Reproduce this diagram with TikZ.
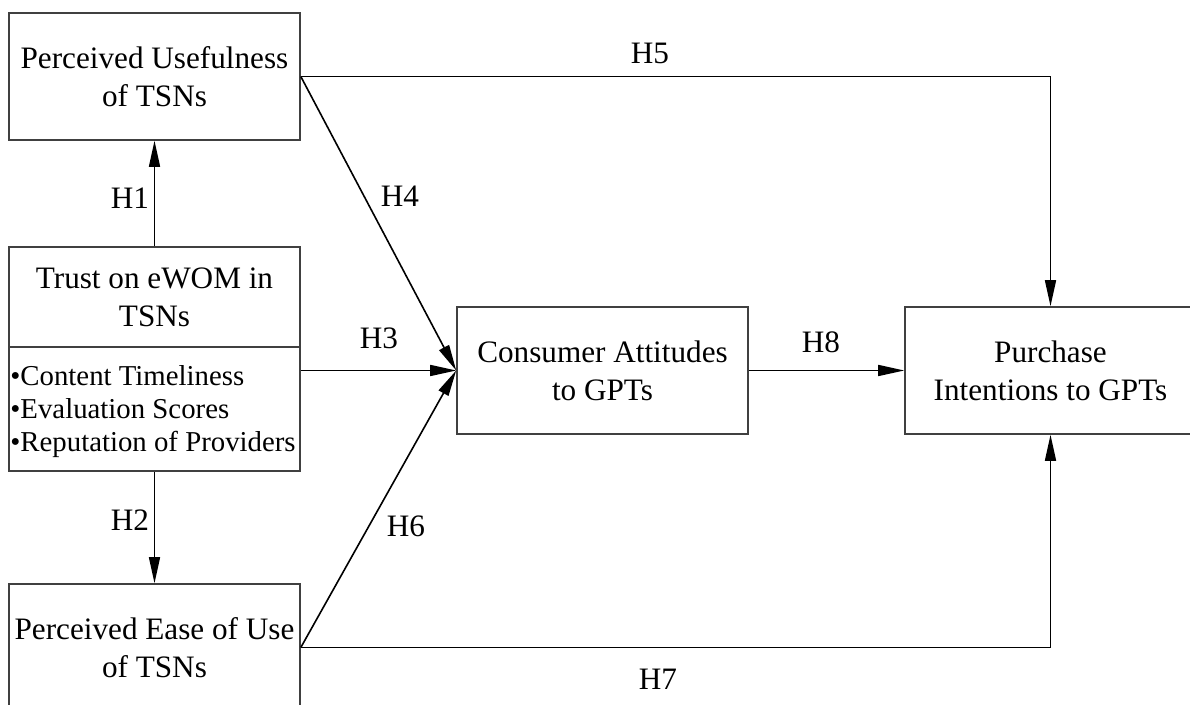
\documentclass[tikz,border=0pt]{standalone}
\usepackage{fontspec}
\setmainfont{Liberation Serif}
\usetikzlibrary{arrows.meta}

\begin{document}
\begin{tikzpicture}[x=0.5pt, y=-0.5pt,
    box/.style={draw=black!75, line width=0.8pt, minimum width=145.5pt, minimum height=63.5pt,
      align=center, inner sep=0pt, font=\fontsize{15.6}{19}\selectfont},
    arr/.style={-{Triangle[length=13pt,width=5.5pt]}, line width=0.8pt},
    lab/.style={font=\fontsize{15.6}{19}\selectfont, inner sep=0pt}]
  % page size and clip of the cut-off boxes
  \useasboundingbox (0,0) rectangle (1190,705);
  \clip (0,0) rectangle (1190,705);

  % left column
  \node[box] (usefulness) at (154.5,76.5) {Perceived Usefulness\\of TSNs};
  \node[box, minimum height=50pt] (trust) at (154.5,297) {Trust on eWOM in\\TSNs};
  \node[box, minimum height=62pt] (dims) at (154.5,409) {};
  \node[lab, font=\fontsize{14.4}{16.5}\selectfont, align=left, anchor=west] (dimtext) at (10,412)
    {\textbullet Content Timeliness\\\textbullet Evaluation Scores\\\textbullet Reputation of Providers};
  \node[box] (ease) at (154.5,647.5) {Perceived Ease of Use\\of TSNs};

  % middle and right
  \node[box] (attitude) at (602.5,370.5) {Consumer Attitudes\\to GPTs};
  \node[box] (intention) at (1050.5,370.5) {Purchase\\Intentions to GPTs};

  % hypotheses
  \draw[arr] (trust.north) -- (usefulness.south);
  \draw[arr] (dims.south) -- (ease.north);
  \draw[arr] (dims.east |- attitude.west) -- (attitude.west);
  \draw[arr] (usefulness.east) -- (attitude.west);
  \draw[arr] (usefulness.east) -| (intention.north);
  \draw[arr] (ease.east) -- (attitude.west);
  \draw[arr] (ease.east) -| (intention.south);
  \draw[arr] (attitude.east) -- (intention.west);

  \node[lab] (h1) at (130,198) {H1};
  \node[lab] (h2) at (130,520) {H2};
  \node[lab] (h3) at (379,338) {H3};
  \node[lab] (h4) at (400,196) {H4};
  \node[lab] (h5) at (650,53) {H5};
  \node[lab] (h6) at (406,526) {H6};
  \node[lab] (h7) at (658,679) {H7};
  \node[lab] (h8) at (821,342) {H8};
\end{tikzpicture}
\end{document}
